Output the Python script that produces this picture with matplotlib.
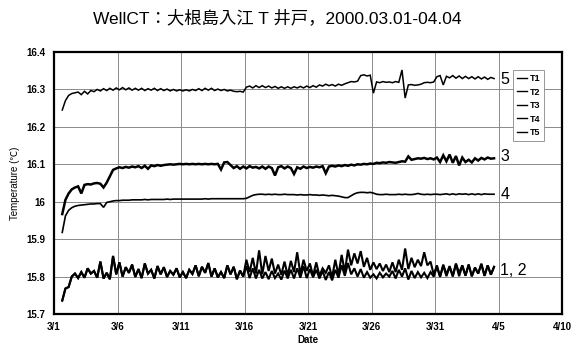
import numpy as np
import matplotlib
matplotlib.use("Agg")
import matplotlib.pyplot as plt

# ---- data (days since 3/1, sampled every 0.25 day) ----
start_day = 0.65
step_day = 0.25

t1 = [15.736, 15.768, 15.772, 15.800, 15.808, 15.796, 15.812, 15.797,
      15.822, 15.808, 15.815, 15.797, 15.840, 15.795, 15.810, 15.793,
      15.855, 15.806, 15.838, 15.800, 15.825, 15.810, 15.832, 15.799,
      15.820, 15.796, 15.835, 15.808, 15.818, 15.795, 15.828, 15.806,
      15.825, 15.799, 15.815, 15.805, 15.822, 15.798, 15.812, 15.796,
      15.818, 15.807, 15.830, 15.801, 15.826, 15.810, 15.836, 15.800,
      15.822, 15.798, 15.812, 15.796, 15.830, 15.806, 15.826, 15.793,
      15.816, 15.800, 15.845, 15.812, 15.850, 15.808, 15.870, 15.806,
      15.855, 15.815, 15.848, 15.808, 15.832, 15.805, 15.840, 15.803,
      15.842, 15.812, 15.865, 15.806, 15.845, 15.815, 15.835, 15.802,
      15.838, 15.802, 15.822, 15.810, 15.830, 15.798, 15.845, 15.804,
      15.858, 15.812, 15.872, 15.830, 15.862, 15.835, 15.868, 15.826,
      15.850, 15.818, 15.838, 15.820, 15.835, 15.815, 15.832, 15.812,
      15.838, 15.812, 15.845, 15.818, 15.875, 15.820, 15.850, 15.825,
      15.845, 15.828, 15.865, 15.830, 15.840, 15.805, 15.830, 15.800,
      15.832, 15.806, 15.828, 15.802, 15.835, 15.810, 15.830, 15.803,
      15.832, 15.801, 15.824, 15.808, 15.834, 15.802, 15.830, 15.805,
      15.826]

t2 = [15.736, 15.768, 15.772, 15.800, 15.808, 15.796, 15.812, 15.797,
      15.822, 15.808, 15.815, 15.797, 15.840, 15.795, 15.810, 15.793,
      15.855, 15.806, 15.838, 15.800, 15.825, 15.810, 15.832, 15.799,
      15.820, 15.796, 15.835, 15.808, 15.818, 15.795, 15.828, 15.806,
      15.825, 15.799, 15.815, 15.805, 15.822, 15.798, 15.812, 15.796,
      15.818, 15.807, 15.830, 15.801, 15.826, 15.810, 15.836, 15.800,
      15.822, 15.798, 15.812, 15.796, 15.830, 15.806, 15.826, 15.793,
      15.816, 15.800, 15.828, 15.796, 15.822, 15.795, 15.818, 15.795,
      15.812, 15.793, 15.815, 15.796, 15.808, 15.792, 15.816, 15.795,
      15.818, 15.795, 15.822, 15.797, 15.828, 15.796, 15.820, 15.798,
      15.818, 15.795, 15.815, 15.791, 15.812, 15.790, 15.818, 15.797,
      15.830, 15.802, 15.836, 15.806, 15.822, 15.800, 15.820, 15.797,
      15.812, 15.797, 15.806, 15.795, 15.810, 15.798, 15.808, 15.800,
      15.815, 15.795, 15.818, 15.800, 15.822, 15.792, 15.815, 15.796,
      15.812, 15.798, 15.810, 15.796, 15.812, 15.800, 15.826, 15.799,
      15.830, 15.801, 15.826, 15.800, 15.833, 15.801, 15.829, 15.802,
      15.832, 15.801, 15.824, 15.808, 15.834, 15.802, 15.830, 15.805,
      15.826]

t3 = [15.967, 16.005, 16.022, 16.033, 16.038, 16.041, 16.022, 16.045,
      16.047, 16.046, 16.049, 16.050, 16.048, 16.038, 16.051, 16.068,
      16.085, 16.089, 16.092, 16.090, 16.093, 16.091, 16.094, 16.092,
      16.095, 16.090, 16.096, 16.088, 16.097, 16.095, 16.098, 16.096,
      16.098, 16.099, 16.100, 16.099, 16.100, 16.101, 16.100, 16.101,
      16.100, 16.101, 16.100, 16.101, 16.100, 16.101, 16.100, 16.101,
      16.100, 16.101, 16.086, 16.105, 16.106, 16.098, 16.090, 16.095,
      16.088, 16.094, 16.089, 16.095, 16.091, 16.093, 16.089, 16.094,
      16.088, 16.094, 16.090, 16.070, 16.092, 16.095, 16.089, 16.094,
      16.090, 16.074, 16.092, 16.088, 16.094, 16.090, 16.093, 16.091,
      16.094, 16.092, 16.095, 16.076, 16.094, 16.096, 16.094, 16.097,
      16.095, 16.098, 16.096, 16.099, 16.097, 16.100, 16.099, 16.101,
      16.100, 16.102, 16.101, 16.104, 16.103, 16.105, 16.104, 16.106,
      16.105, 16.104, 16.106, 16.108, 16.107, 16.121, 16.112, 16.114,
      16.116, 16.115, 16.117, 16.114, 16.116, 16.113, 16.118, 16.106,
      16.124, 16.108, 16.126, 16.104, 16.122, 16.097, 16.118, 16.106,
      16.112, 16.105, 16.116, 16.110, 16.117, 16.113, 16.118, 16.115,
      16.116]

t4 = [15.918, 15.962, 15.977, 15.984, 15.988, 15.990, 15.991, 15.992,
      15.993, 15.994, 15.994, 15.995, 15.995, 15.985, 15.998, 16.000,
      16.002, 16.003, 16.003, 16.004, 16.004, 16.004, 16.005, 16.005,
      16.005, 16.005, 16.006, 16.005, 16.006, 16.006, 16.006, 16.006,
      16.006, 16.007, 16.006, 16.007, 16.007, 16.007, 16.007, 16.007,
      16.007, 16.007, 16.007, 16.007, 16.007, 16.008, 16.007, 16.008,
      16.008, 16.008, 16.008, 16.008, 16.008, 16.008, 16.008, 16.008,
      16.008, 16.008, 16.009, 16.013, 16.017, 16.019, 16.020, 16.020,
      16.019, 16.020, 16.019, 16.020, 16.019, 16.019, 16.020, 16.019,
      16.019, 16.019, 16.018, 16.019, 16.018, 16.018, 16.019, 16.018,
      16.018, 16.017, 16.018, 16.017, 16.016, 16.017, 16.016, 16.015,
      16.013, 16.011, 16.011, 16.016, 16.021, 16.024, 16.025, 16.025,
      16.024, 16.025, 16.023, 16.020, 16.019, 16.019, 16.020, 16.019,
      16.019, 16.019, 16.020, 16.019, 16.020, 16.019, 16.019, 16.020,
      16.022, 16.020, 16.019, 16.020, 16.019, 16.020, 16.020, 16.019,
      16.020, 16.021, 16.019, 16.021, 16.019, 16.021, 16.020, 16.021,
      16.019, 16.021, 16.019, 16.021, 16.019, 16.021, 16.020, 16.020,
      16.020]

t5 = [16.245, 16.270, 16.284, 16.289, 16.291, 16.293, 16.286, 16.295,
      16.288, 16.297, 16.294, 16.300, 16.296, 16.302, 16.297, 16.303,
      16.298, 16.304, 16.299, 16.305, 16.299, 16.304, 16.298, 16.303,
      16.298, 16.303, 16.297, 16.302, 16.298, 16.303, 16.297, 16.302,
      16.297, 16.301, 16.296, 16.300, 16.296, 16.299, 16.296, 16.299,
      16.296, 16.300, 16.297, 16.302, 16.297, 16.303, 16.298, 16.303,
      16.297, 16.301, 16.297, 16.300, 16.296, 16.298, 16.295, 16.294,
      16.295, 16.293, 16.306, 16.309, 16.304, 16.310, 16.305, 16.310,
      16.305, 16.309, 16.304, 16.308, 16.303, 16.307, 16.303, 16.307,
      16.303, 16.307, 16.304, 16.308, 16.304, 16.309, 16.305, 16.310,
      16.306, 16.312, 16.309, 16.314, 16.310, 16.313, 16.309, 16.314,
      16.311, 16.315, 16.318, 16.321, 16.320, 16.322, 16.337, 16.339,
      16.336, 16.338, 16.290, 16.320, 16.318, 16.321, 16.319, 16.320,
      16.318, 16.321, 16.319, 16.352, 16.277, 16.312, 16.313, 16.311,
      16.312, 16.314, 16.318, 16.319, 16.318, 16.320, 16.334, 16.337,
      16.312, 16.335, 16.331, 16.337, 16.330, 16.336, 16.329, 16.335,
      16.329, 16.334, 16.328, 16.334, 16.328, 16.333, 16.327, 16.332,
      16.329]

series_names = ["T1", "T2", "T3", "T4", "T5"]
series_values = [t1, t2, t3, t4, t5]
series_lw = [1.5, 1.5, 1.8, 1.2, 1.1]

x_tick_days = [0, 5, 10, 15, 20, 25, 30, 35, 40]
x_tick_labels = ["3/1", "3/6", "3/11", "3/16", "3/21", "3/26", "3/31", "4/5", "4/10"]
y_ticks = [15.7, 15.8, 15.9, 16.0, 16.1, 16.2, 16.3, 16.4]
y_tick_labels = ["15.7", "15.8", "15.9", "16", "16.1", "16.2", "16.3", "16.4"]

end_labels = ["5", "3", "4", "1, 2"]
end_label_y = [16.327, 16.120, 16.020, 15.815]

title = "WellCT：大根島入江 T 井戸，2000.03.01-04.04"

# ---- figure ----
fig = plt.figure(figsize=(5.82, 3.46), dpi=100)
ax = fig.add_axes([54 / 582, 1 - 314 / 346, (562 - 54) / 582, (314 - 52) / 346])

for name, vals, lw in zip(series_names, series_values, series_lw):
    days = start_day + step_day * np.arange(len(vals))
    ax.plot(days, vals, color="black", lw=lw, label=name, solid_joinstyle="miter")

ax.set_xlim(0, 40)
ax.set_ylim(15.7, 16.4)
ax.set_xticks(x_tick_days)
ax.set_xticklabels(x_tick_labels, fontsize=7, fontweight="bold", family="Liberation Sans")
ax.set_yticks(y_ticks)
ax.set_yticklabels(y_tick_labels, fontsize=7, fontweight="bold", family="Liberation Sans")
ax.tick_params(length=0, pad=6)
ax.grid(True, color="#8a8a8a", lw=0.7)
for s in ax.spines.values():
    s.set_linewidth(1.6)
    s.set_color("black")

for lab, yv in zip(end_labels, end_label_y):
    ax.text(35.15, yv, lab, fontsize=11.5, va="center", ha="left",
            family="Liberation Sans")

leg = ax.legend(loc="upper right", bbox_to_anchor=(0.974, 0.947),
                prop={"family": "Liberation Sans", "weight": "bold", "size": 6.5},
                handlelength=1.2, handletextpad=0.3, labelspacing=0.5,
                borderpad=0.4, fancybox=False, framealpha=1, edgecolor="#888888")
leg.get_frame().set_linewidth(0.6)
for h in leg.get_lines():
    h.set_linewidth(1.0)

ax.set_ylabel("Temperature (℃)", fontsize=7, family=["Liberation Sans", "Noto Sans CJK JP"],
              labelpad=5)
ax.set_xlabel("Date", fontsize=7, fontweight="bold", family="Liberation Sans", labelpad=2)

fig.text(277 / 582, 1 - 18 / 346, title, fontsize=12.5, ha="center", va="center",
         family=["Liberation Sans", "Noto Sans CJK JP"])

fig.savefig("out.png", dpi=100)
